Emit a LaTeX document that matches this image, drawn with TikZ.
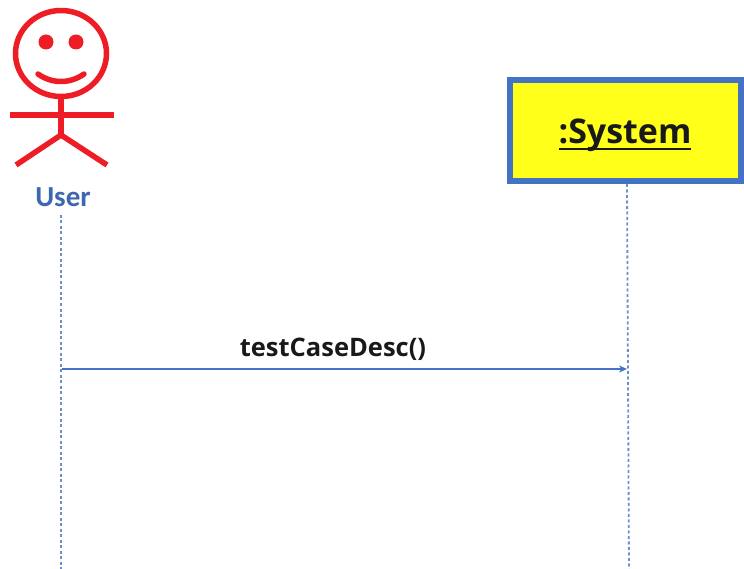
\documentclass[tikz,border=0pt]{standalone}
\usepackage{fontspec}
\setmainfont{Open Sans}
\newfontfamily\carl{Carlito}
\usetikzlibrary{arrows.meta}
\definecolor{uBlue}{HTML}{4472C4}
\definecolor{uRed}{HTML}{EE1C25}
\definecolor{uLife}{HTML}{6F8FCB}
\definecolor{uYellow}{HTML}{FFFF1A}
\tikzset{
  figure/.style={draw=uRed,line width=5.5pt},
  lifeline/.style={draw=uLife,line width=1.8pt,dash pattern=on 3pt off 2.5pt},
  message/.style={draw=uBlue,line width=2.2pt,-{Stealth[length=8pt,width=7pt]}},
  objbox/.style={draw=uBlue,fill=uYellow,line width=5.5pt,minimum width=231pt,minimum height=101pt,inner sep=0pt,anchor=center},
  objlabel/.style={font=\fontsize{34}{38}\selectfont\bfseries,text=black!90,inner sep=0pt,anchor=base},
  actorlabel/.style={font=\carl\fontsize{29}{32}\selectfont\bfseries,text=uBlue!90!black,inner sep=0pt},
  msglabel/.style={font=\fontsize{25.5}{30}\selectfont\bfseries,text=black!90,inner sep=0pt,anchor=base}
}
\begin{document}
\begin{tikzpicture}[x=1pt,y=-1pt]
\useasboundingbox[fill=white] (0,0) rectangle (744,569);
% actor
\draw[figure] (61,53.5) ellipse [x radius=45.5,y radius=43];
\fill[uRed] (46,42) circle (7.5);
\fill[uRed] (76,42) circle (7.5);
\draw[figure,line cap=round] (38,74) .. controls (52,84) and (70,84) .. (84,74);
\draw[figure] (61,98) -- (61,135);
\draw[figure] (10,115) -- (114,115);
\draw[figure] (16,165) -- (61,135) -- (107,165);
\node[actorlabel] (user) at (63,197) {User};
% object box
\node[objbox] (sys) at (625.5,130.5) {};
\node[objlabel] (systxt) at (625,144) {:System};
\coordinate (ulA) at (559,149);
\coordinate (ulB) at (691,149);
\draw[line width=2pt,black!90] (ulA) -- (ulB);
% lifelines
\coordinate (userTop) at (61,215);
\coordinate (userBot) at (61,569);
\coordinate (sysTop) at (627,184);
\coordinate (sysBot) at (629,569);
\coordinate (msgA) at (62,369);
\coordinate (msgB) at (627,369);
\draw[lifeline] (userTop) -- (userBot);
\draw[lifeline] (sysTop) -- (sysBot);
% message
\draw[message] (msgA) -- (msgB);
\node[msglabel] (msg) at (333,356) {testCaseDesc()};
\end{tikzpicture}
\end{document}
